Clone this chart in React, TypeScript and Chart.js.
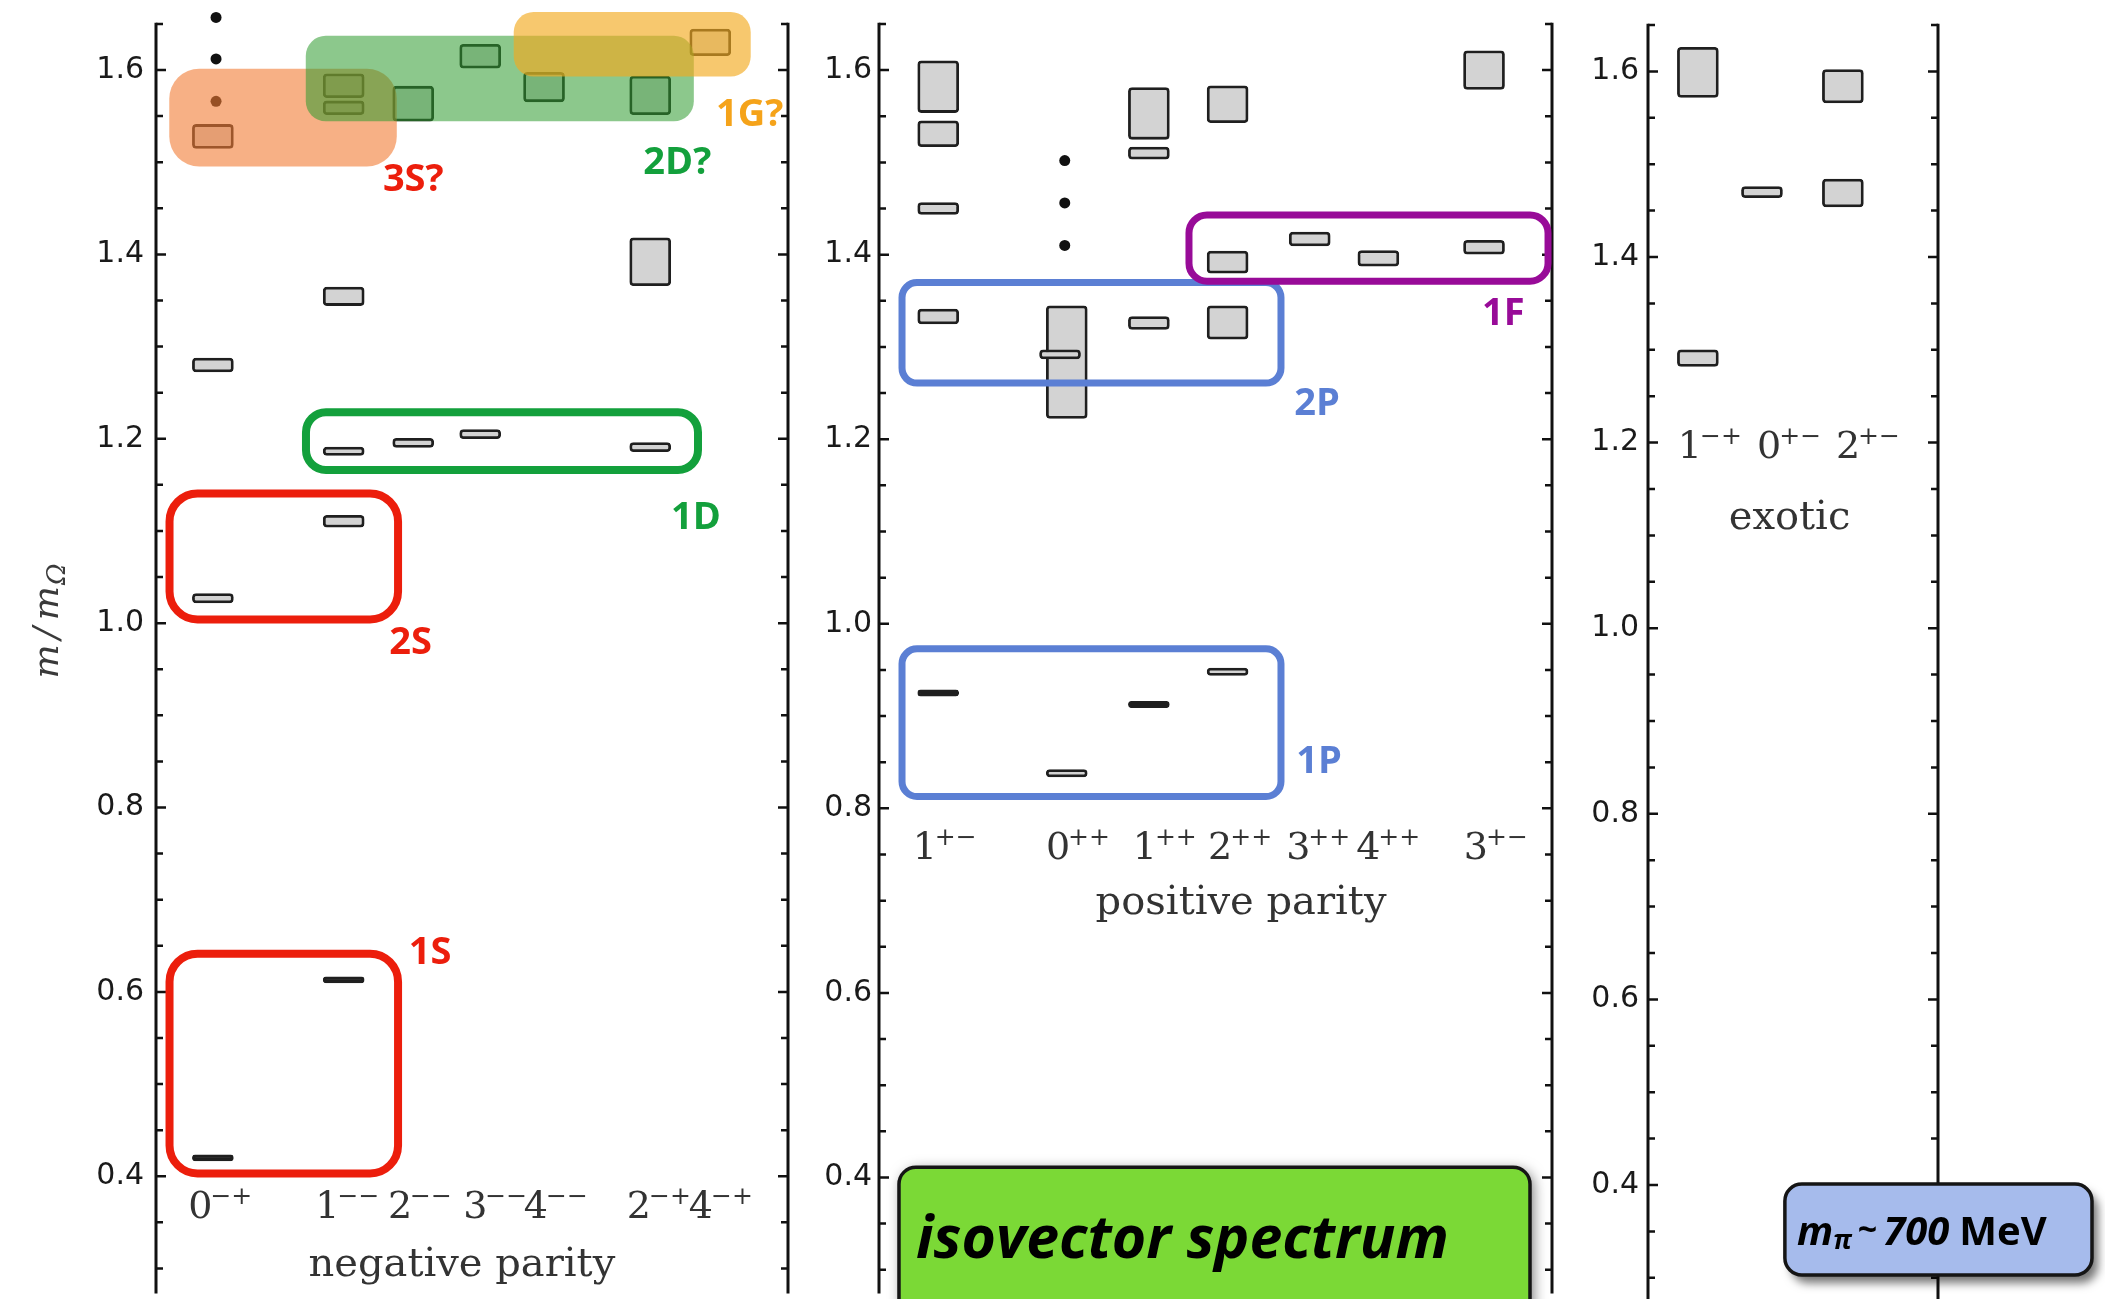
import React, { useEffect, useRef } from 'react';
import { Chart, registerables } from 'chart.js';

Chart.register(...registerables);

const PAGE_W = 2105;
const PAGE_H = 1299;

// ===== Panel 1: negative parity =====
const negJ = ['0', '1', '2', '3', '4', '2', '4'];
const negPC = ['−+', '−−', '−−', '−−', '−−', '−+', '−+'];
const negCatX = [0.9, 2.97, 4.07, 5.13, 6.14, 7.82, 8.77];
const negTickX = [0.51, 2.52, 3.67, 4.86, 5.82, 7.45, 8.43];
const negStateCat = [0, 0, 0, 0, 1, 1, 1, 1, 1, 1, 2, 2, 3, 3, 4, 5, 5, 5, 6];
const negMass = [1.528, 1.28, 1.027, 0.42, 1.583, 1.559, 1.3545, 1.1865, 1.1105, 0.613, 1.5635, 1.1955, 1.615, 1.205, 1.5815, 1.5725, 1.392, 1.191, 1.63];
const negErr = [0.013, 0.0075, 0.005, 0.0033, 0.013, 0.0075, 0.01, 0.0045, 0.0065, 0.0033, 0.019, 0.005, 0.013, 0.005, 0.016, 0.021, 0.026, 0.005, 0.0145];
const negDotX = [0.95, 0.95, 0.95];
const negDotY = [1.657, 1.612, 1.566];

// ===== Panel 2: positive parity =====
const posJ = ['1', '0', '1', '2', '3', '4', '3'];
const posPC = ['+−', '++', '++', '++', '++', '++', '+−'];
const posCatX = [0.88, 2.79, 4.01, 5.18, 6.4, 7.42, 8.99];
const posTickX = [0.5, 2.48, 3.77, 4.89, 6.05, 7.09, 8.69];
const posStateCat = [0, 0, 0, 0, 0, 1, 1, 1, 2, 2, 2, 2, 3, 3, 3, 3, 4, 5, 6, 6];
const posStateShift = [0, 0, 0, 0, 0, 0, -0.1, 0, 0, 0, 0, 0, 0, 0, 0, 0, 0, 0, 0, 0];
const posMass = [1.582, 1.531, 1.45, 1.333, 0.925, 1.2835, 1.292, 0.838, 1.553, 1.51, 1.326, 0.9125, 1.563, 1.392, 1.3265, 0.948, 1.417, 1.396, 1.6, 1.408];
const posErr = [0.028, 0.014, 0.0065, 0.008, 0.0035, 0.061, 0.005, 0.004, 0.028, 0.0065, 0.007, 0.0035, 0.02, 0.012, 0.018, 0.004, 0.0075, 0.0085, 0.021, 0.0075];
const posDotX = [2.76, 2.76, 2.76];
const posDotY = [1.502, 1.456, 1.41];

// ===== Panel 3: exotic =====
const exoJ = ['1', '0', '2'];
const exoPC = ['−+', '+−', '+−'];
const exoCatX = [1.72, 3.93, 6.72];
const exoTickX = [1.03, 3.76, 6.48];
const exoStateCat = [0, 0, 1, 2, 2];
const exoMass = [1.599, 1.291, 1.47, 1.584, 1.469];
const exoErr = [0.027, 0.009, 0.006, 0.018, 0.015];

// y ticks (every 0.05, labelled every 0.2)
const yTickValues: number[] = [];
for (let k = 6; k <= 33; k++) yTickValues.push(Math.round(k * 5) / 100);
const AXIS_TOP = 1.65;
const Y_MAX = 1.67;

const RED = '#ec1e0c';
const GREEN = '#13a03c';
const BLUE = '#5b7fd4';
const PURPLE = '#980b98';
const ORANGE = '#f5a31a';

const isMajor = (v: number) => Math.abs(v * 5 - Math.round(v * 5)) < 1e-6;

function rr(ctx: CanvasRenderingContext2D, x: number, y: number, w: number, h: number, r: number) {
  ctx.beginPath();
  ctx.moveTo(x + r, y);
  ctx.arcTo(x + w, y, x + w, y + h, r);
  ctx.arcTo(x + w, y + h, x, y + h, r);
  ctx.arcTo(x, y + h, x, y, r);
  ctx.arcTo(x, y, x + w, y, r);
  ctx.closePath();
}

const panels: any[] = [
  {
    left: 156, right: 788, top: 21, min: 0.27284, labelPad: 12,
    J: negJ, PC: negPC, catX: negCatX, tickX: negTickX, tickY: 0.3547,
    stateCat: negStateCat, shift: null, mass: negMass, err: negErr,
    dotX: negDotX, dotY: negDotY,
    axisTitle: { text: 'negative parity', x: 4.84, y: 0.2913 },
    yTitle: true,
    fills: [
      { x0: 0.21, x1: 3.81, y0: 1.4954, y1: 1.6015, r: 30, color: 'rgba(242,123,52,0.6)' },
      { x0: 2.37, x1: 8.51, y0: 1.5444, y1: 1.6371, r: 20, color: 'rgba(46,155,46,0.55)' },
      { x0: 5.66, x1: 9.41, y0: 1.5929, y1: 1.6629, r: 20, color: 'rgba(243,171,32,0.65)' },
    ],
    outlines: [
      { x0: 0.214, x1: 3.83, y0: 1.004, y1: 1.1407, r: 28, w: 8, color: RED },
      { x0: 0.214, x1: 3.83, y0: 0.4031, y1: 0.6414, r: 28, w: 8, color: RED },
      { x0: 2.373, x1: 8.576, y0: 1.1662, y1: 1.2287, r: 20, w: 8, color: GREEN },
    ],
    tags: [
      { t: '3S?', x: 3.59, y: 1.469, color: RED },
      { t: '2S', x: 3.69, y: 0.9668, color: RED },
      { t: '1S', x: 4.0, y: 0.6306, color: RED },
      { t: '1D', x: 8.15, y: 1.1026, color: GREEN },
      { t: '2D?', x: 7.71, y: 1.4873, color: GREEN },
      { t: '1G?', x: 8.86, y: 1.539, color: ORANGE },
    ],
    badge: null,
  },
  {
    left: 879, right: 1552, top: 23, min: 0.27428, labelPad: 7,
    J: posJ, PC: posPC, catX: posCatX, tickX: posTickX, tickY: 0.7454,
    stateCat: posStateCat, shift: posStateShift, mass: posMass, err: posErr,
    dotX: posDotX, dotY: posDotY,
    axisTitle: { text: 'positive parity', x: 5.38, y: 0.686 },
    yTitle: false,
    fills: [],
    outlines: [
      { x0: 0.342, x1: 5.973, y0: 1.2608, y1: 1.3697, r: 15, w: 7, color: BLUE },
      { x0: 4.606, x1: 9.941, y0: 1.3713, y1: 1.443, r: 18, w: 7, color: PURPLE },
      { x0: 0.342, x1: 5.973, y0: 0.8128, y1: 0.9729, r: 15, w: 7, color: BLUE },
    ],
    tags: [
      { t: '2P', x: 6.17, y: 1.2263, color: BLUE },
      { t: '1F', x: 8.96, y: 1.3233, color: PURPLE },
      { t: '1P', x: 6.2, y: 0.8381, color: BLUE },
    ],
    badge: {
      kind: 'iso', x0: 0.297, x1: 9.673, y0: 0.2354, y1: 0.4112, fill: '#7bd936',
      tx: 0.55, ty: 0.313,
    },
  },
  {
    left: 1648, right: 1938, top: 25, min: 0.27716, labelPad: 9,
    J: exoJ, PC: exoPC, catX: exoCatX, tickX: exoTickX, tickY: 1.1829,
    stateCat: exoStateCat, shift: null, mass: exoMass, err: exoErr,
    dotX: [], dotY: [],
    axisTitle: { text: 'exotic', x: 4.88, y: 1.107 },
    yTitle: false,
    fills: [], outlines: [], tags: [],
    badge: {
      kind: 'mpi', x0: 4.72, x1: 15.31, y0: 0.3031, y1: 0.4011, fill: '#a6bbec',
      tx: 5.14, ty: 0.3353,
    },
  },
];

function makePlugin(p: any) {
  return {
    id: 'decor',
    afterDatasetsDraw(chart: any) {
      const ctx: CanvasRenderingContext2D = chart.ctx;
      const xs = chart.scales.x;
      const ys = chart.scales.y;
      const X = (v: number) => xs.getPixelForValue(v);
      const Y = (v: number) => ys.getPixelForValue(v);
      const area = chart.chartArea;
      ctx.save();

      // axis lines (frame open at the top, starting at 1.65)
      ctx.strokeStyle = '#111';
      ctx.lineWidth = 3;
      ctx.beginPath();
      ctx.moveTo(area.left, Y(AXIS_TOP) - 1.2);
      ctx.lineTo(area.left, area.bottom);
      ctx.moveTo(area.right, Y(AXIS_TOP) - 1.2);
      ctx.lineTo(area.right, area.bottom);
      ctx.stroke();

      // inward tick marks on both axes
      ctx.lineWidth = 2.5;
      ctx.lineCap = 'butt';
      for (const t of ys.ticks) {
        if (t.value > AXIS_TOP + 1e-9) continue;
        const py = Y(t.value);
        const len = isMajor(t.value) ? 10 : 7;
        ctx.beginPath();
        ctx.moveTo(area.left, py);
        ctx.lineTo(area.left + len, py);
        ctx.moveTo(area.right, py);
        ctx.lineTo(area.right - len, py);
        ctx.stroke();
      }

      // translucent multiplet fills
      for (const f of p.fills) {
        const x0 = X(f.x0), x1 = X(f.x1), yt = Y(f.y1), yb = Y(f.y0);
        rr(ctx, x0, yt, x1 - x0, yb - yt, f.r);
        ctx.fillStyle = f.color;
        ctx.fill();
      }

      // outlined multiplets
      for (const o of p.outlines) {
        const x0 = X(o.x0), x1 = X(o.x1), yt = Y(o.y1), yb = Y(o.y0);
        rr(ctx, x0, yt, x1 - x0, yb - yt, o.r);
        ctx.strokeStyle = o.color;
        ctx.lineWidth = o.w;
        ctx.stroke();
      }

      // multiplet tags
      ctx.textAlign = 'left';
      ctx.textBaseline = 'alphabetic';
      ctx.font = '700 38px "Open Sans", sans-serif';
      for (const g of p.tags) {
        ctx.fillStyle = g.color;
        ctx.fillText(g.t, X(g.x), Y(g.y));
      }

      // J^PC labels
      ctx.fillStyle = '#333';
      for (let i = 0; i < p.J.length; i++) {
        const lx = X(p.tickX[i]);
        const ly = Y(p.tickY);
        ctx.font = '38px "DejaVu Serif", serif';
        ctx.fillText(p.J[i], lx, ly);
        const w = ctx.measureText(p.J[i]).width;
        ctx.font = '25px "DejaVu Serif", serif';
        ctx.fillText(p.PC[i], lx + w - 2, ly - 14);
      }

      // group title
      ctx.font = '40px "DejaVu Serif", serif';
      ctx.textAlign = 'center';
      ctx.fillText(p.axisTitle.text, X(p.axisTitle.x), Y(p.axisTitle.y));
      ctx.textAlign = 'left';

      // y axis title m/m_Ω
      if (p.yTitle) {
        ctx.save();
        ctx.translate(area.left - 98, Y(0.94));
        ctx.rotate(-Math.PI / 2);
        ctx.fillStyle = '#3a3a3a';
        ctx.font = 'italic 36px "DejaVu Serif", serif';
        let x = 0;
        ctx.fillText('m', x, 0);
        x += ctx.measureText('m').width + 5;
        ctx.fillText('/', x, 0);
        x += ctx.measureText('/').width + 7;
        ctx.fillText('m', x, 0);
        x += ctx.measureText('m').width + 1;
        ctx.font = 'italic 26px "DejaVu Serif", serif';
        ctx.fillText('Ω', x, 7);
        ctx.restore();
      }

      // badges
      const b = p.badge;
      if (b) {
        const x0 = X(b.x0), x1 = X(b.x1), yt = Y(b.y1), yb = Y(b.y0);
        ctx.save();
        ctx.shadowColor = 'rgba(0,0,0,0.55)';
        ctx.shadowBlur = b.kind === 'iso' ? 14 : 10;
        ctx.shadowOffsetX = b.kind === 'iso' ? 3 : 6;
        ctx.shadowOffsetY = b.kind === 'iso' ? 3 : 8;
        rr(ctx, x0, yt, x1 - x0, yb - yt, 17);
        ctx.fillStyle = b.fill;
        ctx.fill();
        ctx.restore();
        rr(ctx, x0, yt, x1 - x0, yb - yt, 17);
        ctx.strokeStyle = '#151515';
        ctx.lineWidth = 3.5;
        ctx.stroke();

        ctx.fillStyle = '#000';
        const tx = X(b.tx), ty = Y(b.ty);
        if (b.kind === 'iso') {
          ctx.font = 'italic 700 59px "Open Sans", sans-serif';
          ctx.fillText('isovector spectrum', tx, ty);
        } else {
          let x = tx;
          ctx.font = 'italic 700 40px "Open Sans", sans-serif';
          ctx.fillText('m', x, ty);
          x += ctx.measureText('m').width;
          ctx.font = 'italic 700 26px "Open Sans", sans-serif';
          ctx.fillText('π', x, ty + 4);
          x += ctx.measureText('π').width + 6;
          ctx.font = '700 34px "Open Sans", sans-serif';
          ctx.fillText('~', x, ty - 4);
          x += ctx.measureText('~').width + 6;
          ctx.font = 'italic 700 40px "Open Sans", sans-serif';
          ctx.fillText('700', x, ty);
          x += ctx.measureText('700').width + 10;
          ctx.font = '700 40px "Open Sans", sans-serif';
          ctx.fillText('MeV', x, ty);
        }
      }
      ctx.restore();
    },
  };
}

function buildChart(canvas: HTMLCanvasElement, p: any) {
  const bars = p.stateCat.map((c: number, i: number) => ({
    x: p.catX[c] + (p.shift ? p.shift[i] : 0),
    y: [p.mass[i] - p.err[i], p.mass[i] + p.err[i]],
  }));
  const dots = p.dotX.map((x: number, i: number) => ({ x, y: p.dotY[i] }));
  const axisW = 60;
  const scalePx = (PAGE_H - p.top) / (AXIS_TOP - p.min);
  const topPad = p.top - (Y_MAX - AXIS_TOP) * scalePx;
  const yBase = {
    type: 'linear',
    min: p.min,
    max: Y_MAX,
    grid: { display: true, drawOnChartArea: false, drawTicks: false, color: 'rgba(0,0,0,0)' },
    border: { display: false },
  };
  return new Chart(canvas, {
    type: 'bar',
    data: {
      datasets: [
        {
          type: 'bar',
          data: bars,
          // very narrow levels render as solid dark dashes
          backgroundColor: (c: any) => (p.err[c.dataIndex] <= 0.0035 ? '#1f1f1f' : '#d3d3d3'),
          borderColor: '#1f1f1f',
          borderWidth: 2.8,
          borderRadius: 4,
          borderSkipped: false,
          barThickness: 41,
          grouped: false,
        } as any,
        {
          type: 'scatter',
          data: dots,
          pointRadius: 5.5,
          pointBackgroundColor: '#111',
          pointBorderWidth: 0,
          clip: false,
        } as any,
      ],
    },
    options: {
      responsive: false,
      animation: false,
      devicePixelRatio: 1,
      events: [],
      layout: { padding: { left: p.left - axisW, right: PAGE_W - p.right, top: topPad, bottom: 0 } },
      plugins: { legend: { display: false }, tooltip: { enabled: false }, title: { display: false } },
      scales: {
        x: { type: 'linear', min: 0, max: 10, display: false, offset: false },
        y: {
          ...yBase,
          position: 'left',
          afterBuildTicks: (s: any) => {
            s.ticks = yTickValues.map((v) => ({ value: v }));
          },
          afterFit: (s: any) => {
            s.width = axisW;
            s.paddingTop = 0;
            s.paddingBottom = 0;
          },
          ticks: {
            autoSkip: false,
            padding: p.labelPad,
            color: '#1a1a1a',
            font: { family: '"DejaVu Sans", sans-serif', size: 30 },
            callback: (v: any) => (isMajor(Number(v)) ? Number(v).toFixed(1) : ''),
          },
        },
      } as any,
    } as any,
    plugins: [makePlugin(p)],
  });
}

export default function App() {
  const r1 = useRef<HTMLCanvasElement | null>(null);
  const r2 = useRef<HTMLCanvasElement | null>(null);
  const r3 = useRef<HTMLCanvasElement | null>(null);

  useEffect(() => {
    document.body.style.margin = '0';
    document.body.style.overflow = 'hidden';
    const refs = [r1, r2, r3];
    const charts = refs.map((r, i) => buildChart(r.current as HTMLCanvasElement, panels[i]));
    return () => charts.forEach((c) => c.destroy());
  }, []);

  const cstyle: React.CSSProperties = { position: 'absolute', left: 0, top: 0, width: PAGE_W, height: PAGE_H };
  return (
    <div style={{ position: 'absolute', left: 0, top: 0, width: PAGE_W, height: PAGE_H, overflow: 'hidden', background: '#fff' }}>
      <canvas ref={r1} width={PAGE_W} height={PAGE_H} style={cstyle} />
      <canvas ref={r2} width={PAGE_W} height={PAGE_H} style={cstyle} />
      <canvas ref={r3} width={PAGE_W} height={PAGE_H} style={cstyle} />
    </div>
  );
}
